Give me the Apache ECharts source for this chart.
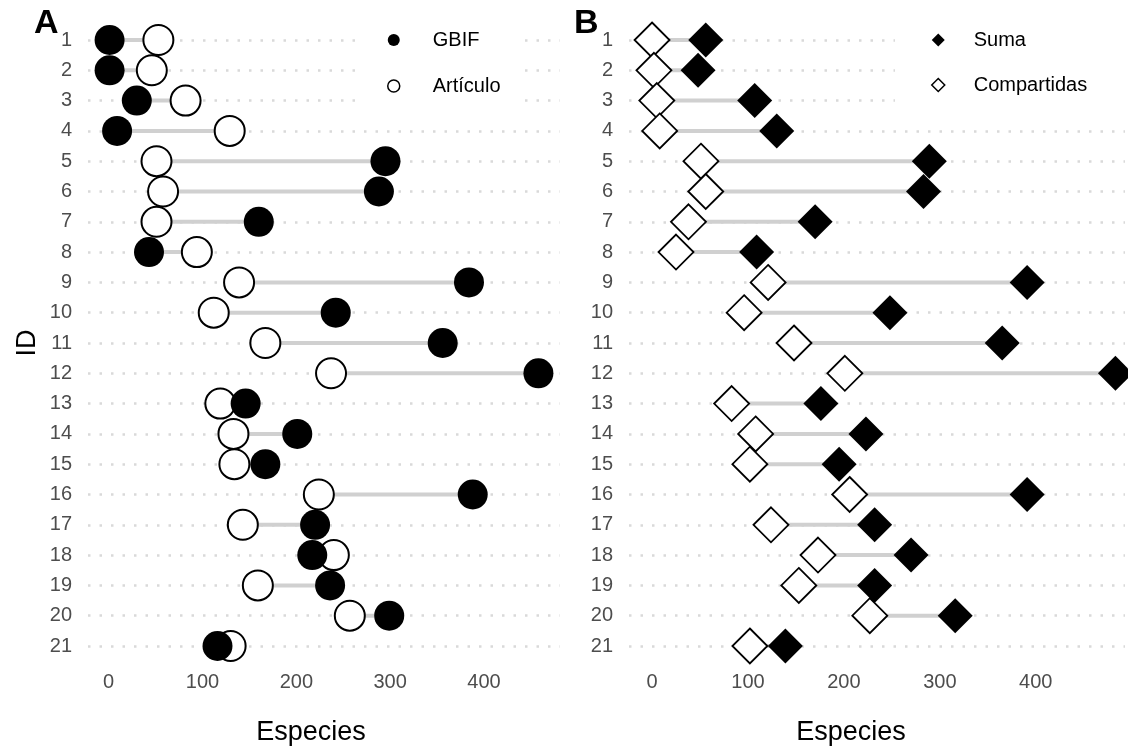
<!DOCTYPE html>
<html>
<head>
<meta charset="utf-8">
<script src="https://cdn.jsdelivr.net/npm/echarts@6/dist/echarts.min.js"></script>
<style>
  html, body { margin: 0; padding: 0; background: #fff; }
  #chart { width: 1128px; height: 748px; }
</style>
</head>
<body>
<div id="chart"></div>
<script>
// IDs (y categories)
const ids = ['1','2','3','4','5','6','7','8','9','10','11','12','13','14','15','16','17','18','19','20','21'];

// panel A
const gbif     = [1, 1, 30, 9, 295, 288, 160, 43, 384, 242, 356, 458, 146, 201, 167, 388, 220, 217, 236, 299, 116];
const articulo = [53, 46, 82, 129, 51, 58, 51, 94, 139, 112, 167, 237, 119, 133, 134, 224, 143, 240, 159, 257, 130];

// panel B
const suma        = [56, 48, 107, 130, 289, 283, 170, 109, 391, 248, 365, 483, 176, 223, 195, 391, 232, 270, 232, 316, 139];
const compartidas = [0, 2, 5, 8, 51, 56, 38, 25, 121, 96, 148, 201, 83, 108, 102, 206, 124, 173, 153, 227, 102];

const xTicks = [0, 100, 200, 300, 400];

const FONT = '"Liberation Sans", Arial, sans-serif';
const GRID_COL = '#d9d9d9';
const SEG_COL = '#d0d0d0';

var myChart = echarts.init(document.getElementById('chart'), null, {renderer: 'canvas'});

function segData(a, b) {
    return ids.map((id, i) => [a[i], b[i], i]);
}
function pts(vals) {
    return ids.map((id, i) => [vals[i], i]);
}
function segSeries(xi, yi, a, b) {
    return {
        type: 'custom',
        xAxisIndex: xi, yAxisIndex: yi,
        data: segData(a, b),
        encode: {x: [0, 1], y: 2},
        silent: true,
        z: 1,
        renderItem: function (params, api) {
            const p1 = api.coord([api.value(0), api.value(2)]);
            const p2 = api.coord([api.value(1), api.value(2)]);
            return {
                type: 'line',
                shape: {x1: p1[0], y1: p1[1], x2: p2[0], y2: p2[1]},
                style: {stroke: SEG_COL, lineWidth: 4}
            };
        }
    };
}

function xAxisFor(gi, min, max) {
    return {
        type: 'value', gridIndex: gi, min: min, max: max,
        axisLine: {show: false}, axisTick: {show: false}, splitLine: {show: false},
        axisLabel: {
            fontFamily: FONT, fontSize: 20, color: '#4d4d4d', margin: 26,
            formatter: v => (xTicks.indexOf(v) >= 0 ? String(v) : '')
        }
    };
}
function yAxisFor(gi) {
    return {
        type: 'category', gridIndex: gi, data: ids, inverse: true, boundaryGap: false,
        axisLine: {show: false}, axisTick: {show: false},
        axisLabel: {fontFamily: FONT, fontSize: 20, color: '#4d4d4d', margin: 16, interval: 0},
        splitLine: {show: true, interval: 0, lineStyle: {color: GRID_COL, width: 2.5, type: [2.5, 9]}}
    };
}

var option = {
    animation: false,
    backgroundColor: '#fff',
    grid: [
        {left: 88, top: 40, width: 472, height: 606},
        {left: 629, top: 40, right: 0, height: 606}
    ],
    xAxis: [xAxisFor(0, -22, 481), xAxisFor(1, -24, 493)],
    yAxis: [yAxisFor(0), yAxisFor(1)],
    legend: [
        {
            orient: 'vertical', left: 355, top: 15, padding: [13, 20, 14, 32],
            backgroundColor: '#fff', itemWidth: 12, itemHeight: 12, itemGap: 22,
            selectedMode: false, z: 10,
            textStyle: {fontFamily: FONT, fontSize: 20, color: '#000', lineHeight: 24, padding: [0, 0, 0, 28]},
            data: [
                {name: 'GBIF', icon: 'circle', itemStyle: {color: '#000', borderWidth: 0, opacity: 1}},
                {name: 'Artículo', icon: 'circle', itemStyle: {color: '#fff', borderColor: '#000', borderWidth: 1.5, opacity: 1}}
            ]
        },
        {
            orient: 'vertical', left: 895, top: 15, padding: [13, 40, 14, 36],
            backgroundColor: '#fff', itemWidth: 13, itemHeight: 13, itemGap: 21,
            selectedMode: false, z: 10,
            textStyle: {fontFamily: FONT, fontSize: 20, color: '#000', lineHeight: 24, padding: [0, 0, 0, 24]},
            data: [
                {name: 'Suma', icon: 'diamond', itemStyle: {color: '#000', borderWidth: 0, opacity: 1}},
                {name: 'Compartidas', icon: 'diamond', itemStyle: {color: '#fff', borderColor: '#000', borderWidth: 1.5, opacity: 1}}
            ]
        }
    ],
    graphic: [
        {type: 'text', left: 34, top: 7, style: {text: 'A', font: 'bold 34px ' + FONT, fill: '#000'}},
        {type: 'text', left: 574, top: 7, style: {text: 'B', font: 'bold 34px ' + FONT, fill: '#000'}},
        {type: 'text', x: 28, y: 343, rotation: Math.PI / 2,
            style: {text: 'ID', font: '27px ' + FONT, fill: '#000', align: 'center', verticalAlign: 'middle'}},
        {type: 'text', x: 311, y: 733,
            style: {text: 'Especies', font: '27px ' + FONT, fill: '#000', align: 'center', verticalAlign: 'middle'}},
        {type: 'text', x: 851, y: 733,
            style: {text: 'Especies', font: '27px ' + FONT, fill: '#000', align: 'center', verticalAlign: 'middle'}}
    ],
    series: [
        segSeries(0, 0, gbif, articulo),
        {
            name: 'Artículo', type: 'scatter', xAxisIndex: 0, yAxisIndex: 0, clip: false, z: 2,
            symbol: 'circle', symbolSize: 30, data: pts(articulo),
            itemStyle: {color: '#fff', borderColor: '#000', borderWidth: 2, opacity: 1}
        },
        {
            name: 'GBIF', type: 'scatter', xAxisIndex: 0, yAxisIndex: 0, clip: false, z: 3,
            symbol: 'circle', symbolSize: 30, data: pts(gbif),
            itemStyle: {color: '#000', borderWidth: 0, opacity: 1}
        },
        segSeries(1, 1, suma, compartidas),
        {
            name: 'Compartidas', type: 'scatter', xAxisIndex: 1, yAxisIndex: 1, clip: false, z: 2,
            symbol: 'diamond', symbolSize: 35, data: pts(compartidas),
            itemStyle: {color: '#fff', borderColor: '#000', borderWidth: 1.8, opacity: 1}
        },
        {
            name: 'Suma', type: 'scatter', xAxisIndex: 1, yAxisIndex: 1, clip: false, z: 3,
            symbol: 'diamond', symbolSize: 35, data: pts(suma),
            itemStyle: {color: '#000', borderWidth: 0, opacity: 1}
        }
    ]
};

myChart.setOption(option);
</script>
</body>
</html>
